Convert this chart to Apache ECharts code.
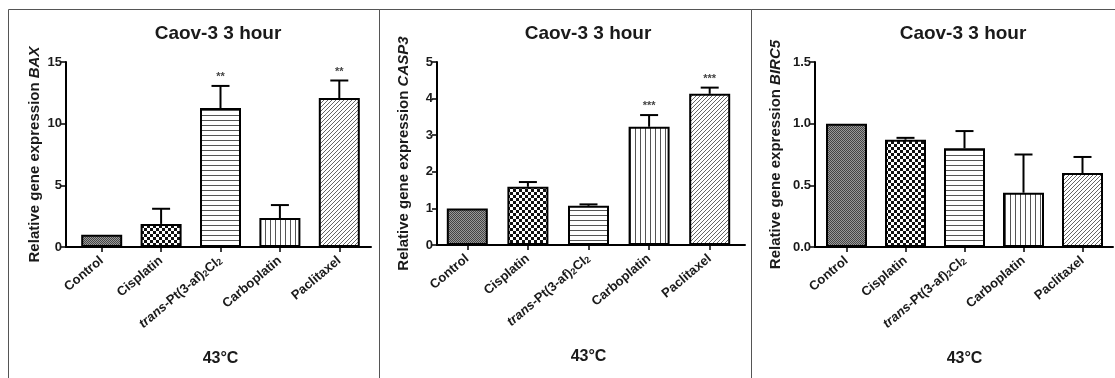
<!DOCTYPE html>
<html>
<head>
<meta charset="utf-8">
<script src="https://cdn.jsdelivr.net/npm/echarts@6/dist/echarts.min.js"></script>
<style>
  html, body { margin: 0; padding: 0; background: #fff; }
  #chart { width: 1115px; height: 378px; }
</style>
</head>
<body>
<div id="chart"></div>
<script>
// ---- Data ----
const categories = ['Control', 'Cisplatin', 'trans-Pt(3-af)2Cl2', 'Carboplatin', 'Paclitaxel'];
const groupLabel = '43°C';
const panelTitle = 'Caov-3 3 hour';

const baxMean = [1.0, 1.87, 11.27, 2.35, 12.08];
const baxSem  = [0, 1.23, 1.79, 1.05, 1.42];
const baxSig  = ['', '', '**', '', '**'];

const casp3Mean = [1.0, 1.59, 1.07, 3.23, 4.13];
const casp3Sem  = [0, 0.13, 0.04, 0.32, 0.17];
const casp3Sig  = ['', '', '', '***', '***'];

const birc5Mean = [1.0, 0.87, 0.80, 0.44, 0.60];
const birc5Sem  = [0, 0.015, 0.14, 0.31, 0.13];
const birc5Sig  = ['', '', '', '', ''];

const baxTicks   = { min: 0, max: 15, interval: 5 };
const casp3Ticks = { min: 0, max: 5, interval: 1 };
const birc5Ticks = { min: 0, max: 1.5, interval: 0.5 };

// ---- Patterns ----
function pat(w, h, draw) {
  const c = document.createElement('canvas');
  c.width = w; c.height = h;
  const ctx = c.getContext('2d');
  ctx.fillStyle = '#fff'; ctx.fillRect(0, 0, w, h);
  draw(ctx);
  return { image: c, repeat: 'repeat' };
}
const patterns = [
  pat(2, 2, ctx => { ctx.fillStyle = '#999'; ctx.fillRect(0,0,2,2); ctx.fillStyle = '#444'; ctx.fillRect(0,0,1,1); ctx.fillRect(1,1,1,1); }),
  pat(6, 6, ctx => { ctx.fillStyle = '#111'; ctx.fillRect(0,0,3,3); ctx.fillRect(3,3,3,3); }),
  pat(5, 5, ctx => { ctx.fillStyle = '#555'; ctx.fillRect(0,0,5,1); }),
  pat(5, 5, ctx => { ctx.fillStyle = '#555'; ctx.fillRect(0,0,1,5); }),
  pat(4, 4, ctx => { ctx.strokeStyle = '#666'; ctx.lineWidth = 1;
    ctx.beginPath(); ctx.moveTo(-1,5); ctx.lineTo(5,-1); ctx.moveTo(-1,1); ctx.lineTo(1,-1); ctx.moveTo(3,5); ctx.lineTo(5,3); ctx.stroke(); })
];

const FONT = 'Liberation Sans, Arial, Helvetica, sans-serif';
const TXT = '#1a1a1a';

const panels = [
  { mean: baxMean, sem: baxSem, sig: baxSig, ticks: baxTicks, gene: 'BAX', dec: 0,
    frame: { left: 66, top: 62, width: 305, height: 185 },
    bars:  { left: 72, top: 62, width: 297, height: 185 }, nameGap: 24, titleX: 218 },
  { mean: casp3Mean, sem: casp3Sem, sig: casp3Sig, ticks: casp3Ticks, gene: 'CASP3', dec: 0,
    frame: { left: 437, top: 62, width: 308, height: 183 },
    bars:  { left: 437, top: 62, width: 303, height: 183 }, nameGap: 26, titleX: 588 },
  { mean: birc5Mean, sem: birc5Sem, sig: birc5Sig, ticks: birc5Ticks, gene: 'BIRC5', dec: 1,
    frame: { left: 815, top: 62, width: 298, height: 185 },
    bars:  { left: 817, top: 62, width: 295, height: 185 }, nameGap: 32, titleX: 963 }
];

const grid = [], xAxis = [], yAxis = [], series = [], title = [];
panels.forEach((p, k) => {
  const gf = grid.length; grid.push(p.frame);
  const gb = grid.length; grid.push(p.bars);
  // frame axes
  xAxis.push({ gridIndex: gf, type: 'value', min: 0, max: 1,
    axisLine: { show: true, lineStyle: { color: '#000', width: 2 } },
    axisTick: { show: false }, axisLabel: { show: false }, splitLine: { show: false } });
  yAxis.push({ gridIndex: gf, type: 'value', min: p.ticks.min, max: p.ticks.max, interval: p.ticks.interval,
    axisLine: { show: true, lineStyle: { color: '#000', width: 2 } },
    axisTick: { show: true, length: 5, lineStyle: { color: '#000', width: 1.5 } },
    axisLabel: { color: TXT, fontFamily: FONT, fontWeight: 'bold', fontSize: 13, margin: 4,
      formatter: v => v.toFixed(p.dec) },
    splitLine: { show: false },
    name: '{n|Relative gene expression }{i|' + p.gene + '}',
    nameLocation: 'middle', nameRotate: 90, nameGap: p.nameGap,
    nameTextStyle: { rich: {
      n: { fontFamily: FONT, fontWeight: 'bold', fontSize: 15, color: TXT },
      i: { fontFamily: FONT, fontWeight: 'bold', fontStyle: 'italic', fontSize: 15, color: TXT } } } });
  // bar axes
  const xi = xAxis.length;
  xAxis.push({ gridIndex: gb, type: 'category', data: categories,
    axisLine: { show: false },
    axisTick: { show: true, alignWithLabel: true, length: 5, lineStyle: { color: '#000', width: 1.5 } },
    axisLabel: { interval: 0, rotate: 40, margin: 12, color: TXT, fontFamily: FONT, fontWeight: 'bold', fontSize: 13,
      formatter: v => v.startsWith('trans') ? '{i|trans}-Pt(3-af){s|2}Cl{s|2}' : v,
      rich: {
        i: { fontFamily: FONT, fontWeight: 'bold', fontStyle: 'italic', fontSize: 13, color: TXT },
        s: { fontFamily: FONT, fontWeight: 'bold', fontSize: 9, color: TXT, verticalAlign: 'bottom' } } },
    name: groupLabel, nameLocation: 'middle', nameGap: 104,
    nameTextStyle: { fontFamily: FONT, fontWeight: 'bold', fontSize: 16, color: TXT } });
  const yi = yAxis.length;
  yAxis.push({ gridIndex: gb, type: 'value', min: p.ticks.min, max: p.ticks.max, show: false });

  series.push({ type: 'bar', xAxisIndex: xi, yAxisIndex: yi, barWidth: 41,
    data: p.mean.map((v, i) => ({ value: v, itemStyle: { color: patterns[i] } })),
    itemStyle: { borderColor: '#000', borderWidth: 2 }, silent: true });

  const sig = p.sig;
  series.push({ type: 'custom', xAxisIndex: xi, yAxisIndex: yi, z: 5, silent: true,
    encode: { x: 0, y: 1 },
    data: p.mean.map((v, i) => [i, v, p.sem[i]]),
    renderItem: (params, api) => {
      const i = api.value(0), m = api.value(1), e = api.value(2);
      const p0 = api.coord([i, m]);
      const p1 = api.coord([i, m + e]);
      const ch = [];
      const ls = { stroke: '#000', lineWidth: 2 };
      if (e > 0) {
        ch.push({ type: 'line', shape: { x1: p0[0], y1: p0[1], x2: p1[0], y2: p1[1] }, style: ls });
        ch.push({ type: 'line', shape: { x1: p1[0] - 9, y1: p1[1], x2: p1[0] + 9, y2: p1[1] }, style: ls });
      }
      if (sig[i]) {
        ch.push({ type: 'text', style: { text: sig[i], x: p1[0], y: p1[1] - 9, align: 'center', verticalAlign: 'middle',
          font: 'bold 11px ' + FONT, fill: '#444' } });
      }
      return { type: 'group', children: ch };
    } });

  title.push({ text: panelTitle, left: p.titleX, top: 24, textAlign: 'center', padding: 0,
    textStyle: { fontFamily: FONT, fontWeight: 'bold', fontSize: 19, color: TXT } });
});

const chart = echarts.init(document.getElementById('chart'), null, { renderer: 'canvas' });
chart.setOption({
  animation: false,
  backgroundColor: '#fff',
  title, grid, xAxis, yAxis, series,
  graphic: [
    { type: 'rect', shape: { x: 8.5, y: 9.5, width: 371, height: 400 }, style: { fill: 'none', stroke: '#555', lineWidth: 1 }, silent: true },
    { type: 'rect', shape: { x: 379.5, y: 9.5, width: 372, height: 400 }, style: { fill: 'none', stroke: '#555', lineWidth: 1 }, silent: true },
    { type: 'rect', shape: { x: 751.5, y: 9.5, width: 400, height: 400 }, style: { fill: 'none', stroke: '#555', lineWidth: 1 }, silent: true }
  ]
});
</script>
</body>
</html>
